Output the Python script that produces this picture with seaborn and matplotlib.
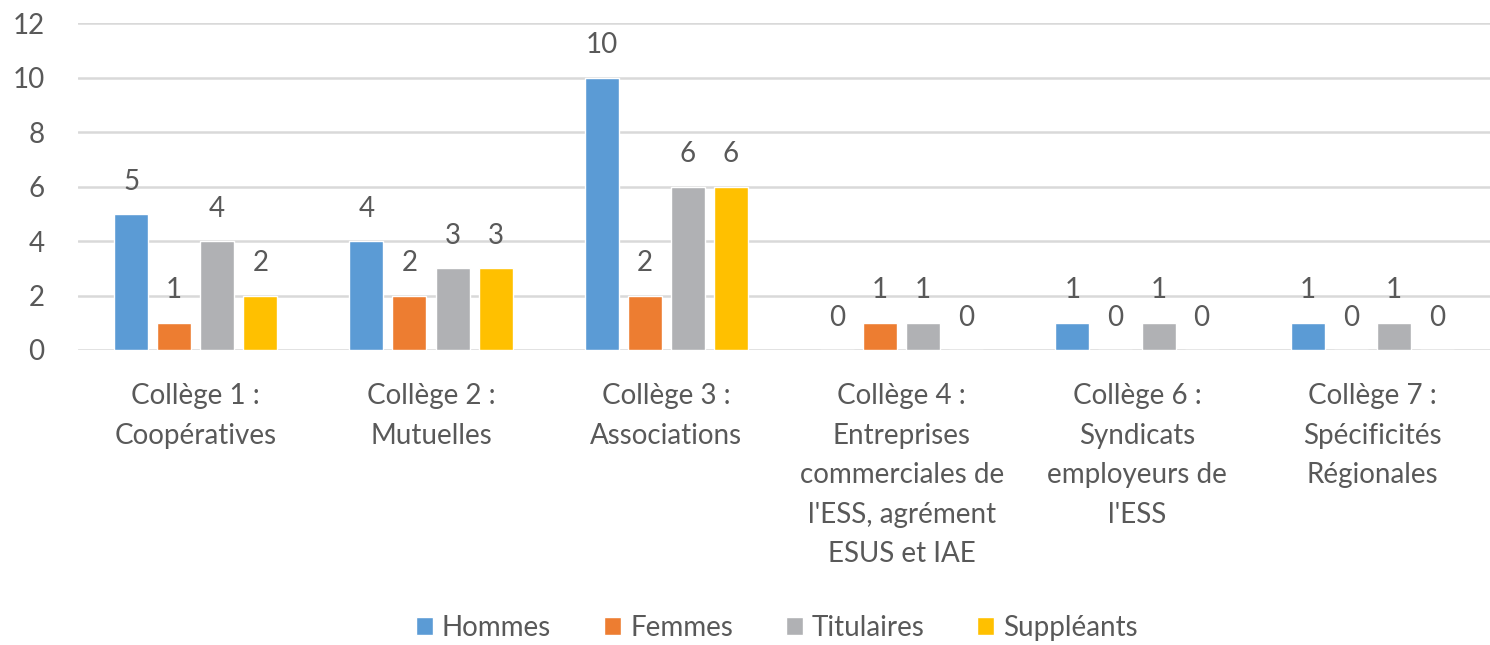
import pandas as pd
import matplotlib.pyplot as plt
import seaborn as sns

# donnees du graphique
colleges = ["Collège 1 :\nCoopératives",
            "Collège 2 :\nMutuelles",
            "Collège 3 :\nAssociations",
            "Collège 4 :\nEntreprises\ncommerciales de\nl'ESS, agrément\nESUS et IAE",
            "Collège 6 :\nSyndicats\nemployeurs de\nl'ESS",
            "Collège 7 :\nSpécificités\nRégionales"]
hommes = [5, 4, 10, 0, 1, 1]
femmes = [1, 2, 2, 1, 0, 0]
titulaires = [4, 3, 6, 1, 1, 1]
suppleants = [2, 3, 6, 0, 0, 0]
series = ["Hommes", "Femmes", "Titulaires", "Suppléants"]
couleurs = ["#5B9BD5", "#ED7D31", "#B0B1B4", "#FFC000"]

df = pd.DataFrame({"College": colleges * 4,
                   "Serie": [s for s in series for _ in colleges],
                   "Valeur": hommes + femmes + titulaires + suppleants})

sns.set_style("white")
plt.rcParams['font.family'] = ['Lato', 'DejaVu Sans']
gris = "#595959"
taille = 20

fig = plt.figure(figsize=(14.9, 6.45), dpi=100)
ax = fig.add_axes([78/1490, 1 - 350/645, 1 - 78/1490, (350 - 23.5)/645])

sns.barplot(data=df, x="College", y="Valeur", hue="Serie", palette=couleurs,
            saturation=1, width=0.732, gap=0.21, ax=ax, legend=True)

for c in ax.containers:
    ax.bar_label(c, fmt='%d', padding=14, fontsize=taille, color=gris)

ax.set_ylim(0, 12)
ax.set_yticks(range(0, 13, 2))
ax.set_xlim(-0.5, 5.5)
ax.yaxis.grid(True, color="#D9D9D9", linewidth=1.8)
ax.set_axisbelow(True)
for s in ax.spines.values():
    s.set_visible(False)
ax.tick_params(axis='both', length=0, labelsize=taille, labelcolor=gris)
ax.tick_params(axis='y', pad=24)
ax.tick_params(axis='x', pad=24)
for t in ax.get_xticklabels():
    t.set_linespacing(1.64)
ax.set_xlabel("")
ax.set_ylabel("")

ax.legend(loc="center", bbox_to_anchor=(777/1490, 17/645), bbox_transform=fig.transFigure,
          ncol=4, frameon=False, fontsize=taille, labelcolor=gris,
          handlelength=0.61, handleheight=0.61, handletextpad=0.33, columnspacing=1.9)

fig.savefig("out.png", dpi=100)
